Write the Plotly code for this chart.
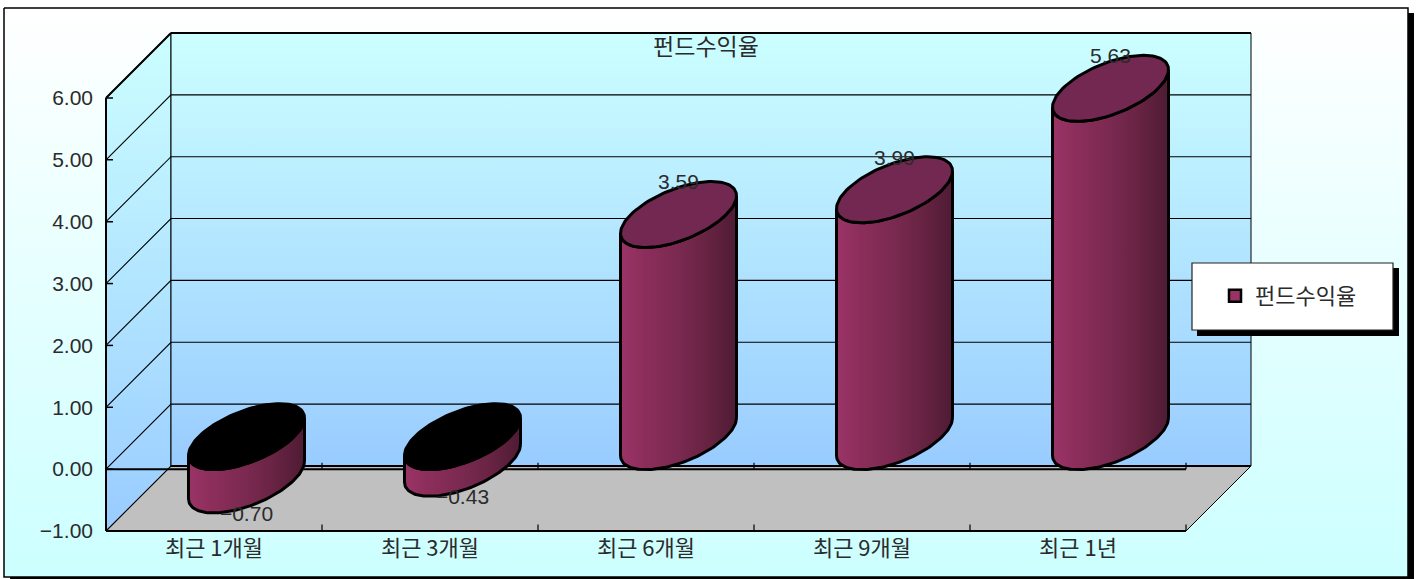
import numpy as np
import plotly.graph_objects as go

# ---- data ----
categories = ["최근 1개월", "최근 3개월", "최근 6개월", "최근 9개월", "최근 1년"]
fund_returns = [-0.70, -0.43, 3.59, 3.99, 5.63]
series_name = "펀드수익율"
y_ticks = [-1, 0, 1, 2, 3, 4, 5, 6]

# ---- pseudo-3D geometry (scale of the axes, in pixels per unit) ----
W, H = 1420, 579
PLOT_L, PLOT_R, PLOT_T, PLOT_B = 106, 1251, 34, 531
PAD_L, PAD_R, PAD_T, PAD_B = 8, 2, 2, 1.5   # room so edge lines are not clipped
PX_X = 216.0
PX_Y = 61.86
DEPTH_X = 65 / PX_X          # depth of the box in x units
DEPTH_Y = 65 / PX_Y          # depth of the box in y units
N = len(categories)
XMIN = -PAD_L / PX_X
XMAX = (PLOT_R - PLOT_L + PAD_R) / PX_X
YMIN = -1 - PAD_B / PX_Y
YTOP = -1 + (PLOT_B - PLOT_T + PAD_T) / PX_Y
YLOW = min(y_ticks)
YHIGH = max(y_ticks)

HANGUL = "Noto Sans CJK KR"
LATIN = "Liberation Sans"
TXT = "#2b2b2b"
BLUE_GRAD = [[0, "#99CCFF"], [1, "#CCFFFF"]]
BAR_GRAD = [[0, "#9B3468"], [0.2, "#8C2E5B"], [0.5, "#7A2950"], [0.75, "#672342"], [1, "#4E1B34"]]

fig = go.Figure()


def bg(xs, ys, **kw):
    fig.add_trace(go.Scatter(x=xs, y=ys, xaxis="x", yaxis="y", hoverinfo="skip",
                             showlegend=False, **kw))


def main(xs, ys, **kw):
    fig.add_trace(go.Scatter(x=xs, y=ys, xaxis="x2", yaxis="y2", hoverinfo="skip",
                             showlegend=False, cliponaxis=False, **kw))


# ---- chart-area frame with shadow and gradient ----
bg([10, 1414, 1414, 10, 10], [13, 13, 590, 590, 13], mode="lines", fill="toself",
   fillcolor="black", line=dict(color="black", width=0))
bg([4, 1408, 1408, 4, 4], [8, 8, 577, 577, 8], mode="lines", fill="toself",
   fillgradient=dict(type="vertical", colorscale=[[0, "#CCFFFF"], [1, "#FFFFFF"]]),
   line=dict(color="black", width=1.5))

# ---- walls and floor ----
xb0, xb1 = DEPTH_X, N + DEPTH_X
yb0, yb1 = YLOW + DEPTH_Y, YHIGH + DEPTH_Y
main([0, xb0, xb0, 0, 0], [YLOW, yb0, yb1, YHIGH, YLOW], mode="lines", fill="toself",
     fillgradient=dict(type="vertical", colorscale=BLUE_GRAD), line=dict(color="black", width=1))
main([xb0, xb1, xb1, xb0, xb0], [yb0, yb0, yb1, yb1, yb0], mode="lines", fill="toself",
     fillgradient=dict(type="vertical", colorscale=BLUE_GRAD), line=dict(color="black", width=1))
main([0, N, xb1, xb0, 0], [YLOW, YLOW, yb0, yb0, YLOW], mode="lines", fill="toself",
     fillcolor="#C0C0C0", line=dict(color="black", width=1))

# gridlines: side wall diagonal + back wall horizontal
gx, gy = [], []
for t in y_ticks:
    gx += [0, xb0, xb1, None]
    gy += [t, t + DEPTH_Y, t + DEPTH_Y, None]
main(gx, gy, mode="lines", line=dict(color="black", width=1.1))

# heavier edges of the box
main([xb0, xb1, None, xb0, xb1, None, 0, 0, None, 0, xb0],
     [yb1, yb1, None, yb0, yb0, None, YLOW, YHIGH, None, YHIGH, yb1],
     mode="lines", line=dict(color="black", width=2))
main([0, N], [YLOW, YLOW], mode="lines", line=dict(color="black", width=2))

# left-axis ticks
tick_dx = 7 / PX_X
tx, ty = [], []
for t in y_ticks:
    tx += [0, tick_dx, None]
    ty += [t, t, None]
main(tx, ty, mode="lines", line=dict(color="black", width=1.5))

# zero line with category ticks, and bottom-axis ticks
main([0, N], [0, 0], mode="lines", line=dict(color="black", width=2))
tick_dy = 6.5 / PX_Y
cx, cy = [], []
for i in range(1, N + 1):
    cx += [i, i, None, i, i, None]
    cy += [0, tick_dy, None, YLOW, YLOW + tick_dy, None]
main(cx, cy, mode="lines", line=dict(color="black", width=1.2))

# ---- cylinders ----
DX = DEPTH_X / 2
DY = DEPTH_Y / 2
DISC_W = 47.7 / PX_X
DISC_D = 33 / PX_X
DISC_H = 33 / PX_Y
LABEL_UP = 30.5 / PX_Y
LABEL_DOWN = 36 / PX_Y


def disc(cx_, cy_, t):
    return cx_ + DISC_W * np.cos(t) + DISC_D * np.sin(t), cy_ + DISC_H * np.sin(t)


t_tan = np.arctan2(DISC_D, DISC_W)   # parameter of right-most point
labels_x, labels_y, labels_t = [], [], []
for i, v in enumerate(fund_returns):
    c_x = i + 0.5 + DX
    c_0 = DY
    c_v = v + DY
    upper = max(c_0, c_v)
    lower = min(c_0, c_v)
    # silhouette: right edge down to the front arc of the lower disc, round to left, then up
    ts = np.linspace(t_tan, t_tan - np.pi, 80)
    lx, ly = disc(c_x, lower, ts)
    ux, uy = disc(c_x, upper, ts[::-1])
    main(list(lx) + list(ux) + [lx[0]], list(ly) + list(uy) + [ly[0]],
         mode="lines", fill="toself",
         fillgradient=dict(type="horizontal", colorscale=BAR_GRAD),
         line=dict(color="black", width=3))
    ta = np.linspace(0, 2 * np.pi, 121)
    ex, ey = disc(c_x, upper, ta)
    main(list(ex), list(ey), mode="lines", fill="toself",
         fillcolor="#000000" if v < 0 else "#722850",
         line=dict(color="black", width=3))
    labels_x.append(c_x)
    labels_y.append(c_v + (LABEL_UP if v >= 0 else -LABEL_DOWN))
    labels_t.append(f"{v:.2f}".replace("-", "\u2212"))

main(labels_x, labels_y, mode="text", text=labels_t, textposition="middle center",
     textfont=dict(family=LATIN, size=21, color=TXT))

# legend entry
fig.add_trace(go.Scatter(x=[None], y=[None], xaxis="x2", yaxis="y2", mode="markers",
                         name=series_name, showlegend=True, hoverinfo="skip",
                         marker=dict(symbol="square", size=12, color="#993366",
                                     line=dict(color="black", width=2.5))))

fig.update_layout(
    width=W, height=H,
    margin=dict(l=0, r=0, t=0, b=0, autoexpand=False),
    paper_bgcolor="white", plot_bgcolor="rgba(0,0,0,0)",
    hovermode=False,
    title=dict(text=series_name, x=706 / W, y=1 - 47 / H, xref="paper", yref="paper",
               xanchor="center", yanchor="middle",
               font=dict(family=HANGUL, size=23, color=TXT)),
    xaxis=dict(domain=[0, 1], range=[0, W], visible=False, fixedrange=True),
    yaxis=dict(domain=[0, 1], range=[H, 0], visible=False, fixedrange=True),
    xaxis2=dict(domain=[(PLOT_L - PAD_L) / W, (PLOT_R + PAD_R) / W], range=[XMIN, XMAX], anchor="y2",
                tickmode="array", tickvals=[i + 0.5 for i in range(N)], ticktext=categories,
                showgrid=False, zeroline=False, showline=False, ticks="",
                ticklabelstandoff=0,
                tickfont=dict(family=HANGUL, size=22, color=TXT), fixedrange=True),
    yaxis2=dict(domain=[1 - (PLOT_B + PAD_B) / H, 1 - (PLOT_T - PAD_T) / H], range=[YMIN, YTOP], anchor="x2",
                tickmode="array", tickvals=y_ticks, tickformat=".2f",
                showgrid=False, zeroline=False, showline=False, ticks="",
                ticklabelstandoff=4,
                tickfont=dict(family=LATIN, size=21, color=TXT), fixedrange=True),
    legend=dict(x=1215 / W, y=1 - 296 / H, xanchor="left", yanchor="middle",
                bgcolor="rgba(0,0,0,0)", borderwidth=0,
                font=dict(family=HANGUL, size=22, color=TXT)),
    shapes=[
        dict(type="rect", xref="paper", yref="paper", layer="above",
             x0=1197 / W, x1=1399 / W, y0=1 - 268 / H, y1=1 - 336 / H,
             fillcolor="black", line=dict(width=0)),
        dict(type="rect", xref="paper", yref="paper", layer="above",
             x0=1192 / W, x1=1393 / W, y0=1 - 263 / H, y1=1 - 330 / H,
             fillcolor="white", line=dict(color="#222222", width=1.2)),
    ],
)

fig.write_html("out.html", config={"displayModeBar": False},
               post_script="document.body.style.margin='0';document.body.style.overflow='hidden';")
